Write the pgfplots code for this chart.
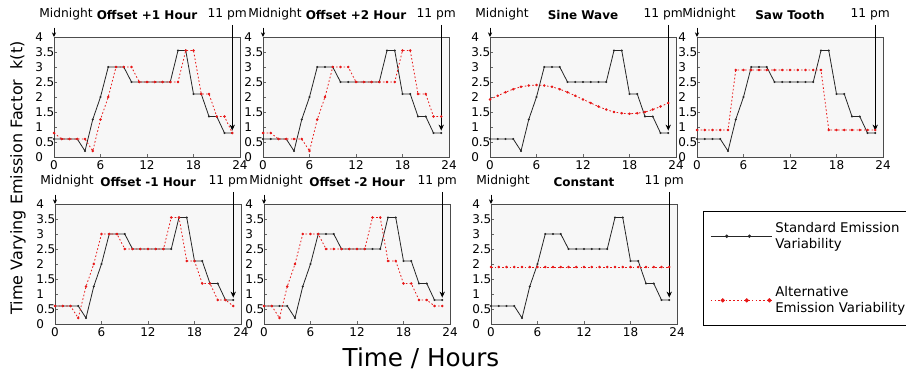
\documentclass[border=0pt]{standalone}
\usepackage{fontspec}
\setmainfont{DejaVu Sans}
\usepackage{pgfplots}
\pgfplotsset{compat=1.18}
\usepackage{pgfplotstable}
\usetikzlibrary{arrows.meta}

\definecolor{altred}{RGB}{232,24,24}

\pgfplotstableread{
h std p1 p2 m1 m2 sine saw const
0 0.6 0.8 0.8 0.6 0.6 1.92 0.9 1.9
1 0.6 0.6 0.8 0.6 0.6 2.04 0.9 1.9
2 0.6 0.6 0.6 0.6 0.2 2.16 0.9 1.9
3 0.6 0.6 0.6 0.2 1.25 2.26 0.9 1.9
4 0.2 0.6 0.6 1.25 2.0 2.34 0.9 1.9
5 1.25 0.2 0.6 2.0 3.0 2.38 2.9 1.9
6 2.0 1.25 0.2 3.0 3.0 2.40 2.9 1.9
7 3.0 2.0 1.25 3.0 3.0 2.38 2.9 1.9
8 3.0 3.0 2.0 3.0 2.5 2.34 2.9 1.9
9 3.0 3.0 3.0 2.5 2.5 2.26 2.9 1.9
10 2.5 3.0 3.0 2.5 2.5 2.16 2.9 1.9
11 2.5 2.5 3.0 2.5 2.5 2.04 2.9 1.9
12 2.5 2.5 2.5 2.5 2.5 1.92 2.9 1.9
13 2.5 2.5 2.5 2.5 2.5 1.80 2.9 1.9
14 2.5 2.5 2.5 2.5 3.55 1.68 2.9 1.9
15 2.5 2.5 2.5 3.55 3.55 1.58 2.9 1.9
16 3.55 2.5 2.5 3.55 2.1 1.50 2.9 1.9
17 3.55 3.55 2.5 2.1 2.1 1.46 0.9 1.9
18 2.1 3.55 3.55 2.1 1.35 1.44 0.9 1.9
19 2.1 2.1 3.55 1.35 1.35 1.46 0.9 1.9
20 1.35 2.1 2.1 1.35 0.8 1.50 0.9 1.9
21 1.35 1.35 2.1 0.8 0.8 1.58 0.9 1.9
22 0.8 1.35 1.35 0.8 0.6 1.68 0.9 1.9
23 0.8 0.8 1.35 0.6 0.6 1.80 0.9 1.9
}\kdata

\pgfplotsset{
  panel/.style={
    scale only axis, width=139.5pt, height=90pt,
    xmin=0, xmax=24, ymin=0, ymax=4,
    xtick={0,6,12,18,24},
    ytick={0,0.5,1,1.5,2,2.5,3,3.5,4},
    /pgf/number format/assume math mode=true,
    tick label style={font=\fontsize{9}{10}\selectfont},
    yticklabel style={anchor=west, inner xsep=0pt, xshift=-14.25pt},
    xticklabel style={yshift=1pt},
    tick align=inside, tick pos=left, major tick length=2pt,
    tick style={black!60},
    axis line style={black!70, line width=0.6pt},
    axis background/.style={fill=black!3},
    title style={at={(0.5,1)}, anchor=base, yshift=6.75pt,
      font=\fontsize{9}{10}\selectfont\bfseries},
    clip=false,
    anchor=south west,
  },
  stdline/.style={black!85, line width=0.6pt, mark=*, mark size=0.45pt},
  altline/.style={altred, line width=0.6pt, dash pattern=on 1.2pt off 1.6pt,
     mark=*, mark size=0.6pt, mark options={solid}},
  stdlegend/.style={legend image code/.code={\draw[##1, mark indices={2,3}]
      plot coordinates {(0pt,0pt) (12pt,0pt) (29pt,0pt) (46pt,0pt)};}},
  altlegend/.style={legend image code/.code={\draw[##1, mark size=1.3pt, mark indices={2,3,4}]
      plot coordinates {(0pt,0pt) (9pt,0pt) (27pt,0pt) (44pt,0pt) (46pt,0pt)};}},
}

\newcommand{\annot}{%
  \node[anchor=base, font=\fontsize{9.2}{10}\selectfont, inner sep=0pt]
     at ([xshift=9pt,yshift=14.25pt]axis cs:0,4) {Midnight};
  \draw[-{Stealth[length=3.5pt,width=3.2pt]}, line width=0.7pt]
     ([yshift=7pt]axis cs:0,4) -- (axis cs:0,4);
  \node[anchor=base, font=\fontsize{9.2}{10}\selectfont, inner sep=0pt]
     at ([xshift=-3.75pt,yshift=14.25pt]axis cs:23,4) {11 pm};
  \draw[-{Stealth[length=4.5pt,width=4pt]}, line width=1pt]
     ([yshift=9pt]axis cs:23,4) -- (axis cs:23,0.88);
}

\begin{document}
\begin{tikzpicture}

% Row 1
\begin{axis}[panel, at={(40.5pt,160.5pt)}, title={Offset +1 Hour}]
  \addplot[stdline] table[x=h,y=std] {\kdata};
  \addplot[altline] table[x=h,y=p1] {\kdata};
  \annot
\end{axis}

\begin{axis}[panel, at={(197.25pt,160.5pt)}, title={Offset +2 Hour}]
  \addplot[stdline] table[x=h,y=std] {\kdata};
  \addplot[altline] table[x=h,y=p2] {\kdata};
  \annot
\end{axis}

\begin{axis}[panel, at={(367.5pt,160.5pt)}, title={Sine Wave}]
  \addplot[stdline] table[x=h,y=std] {\kdata};
  \addplot[altline] table[x=h,y=sine] {\kdata};
  \annot
\end{axis}

\begin{axis}[panel, at={(522.75pt,160.5pt)}, title={Saw Tooth}]
  \addplot[stdline] table[x=h,y=std] {\kdata};
  \addplot[altline] table[x=h,y=saw] {\kdata};
  \annot
\end{axis}

% Row 2
\begin{axis}[panel, at={(41.25pt,35.25pt)}, title={Offset -1 Hour}]
  \addplot[stdline] table[x=h,y=std] {\kdata};
  \addplot[altline] table[x=h,y=m1] {\kdata};
  \annot
\end{axis}

\begin{axis}[panel, at={(198pt,35.25pt)}, title={Offset -2 Hour}]
  \addplot[stdline] table[x=h,y=std] {\kdata};
  \addplot[altline] table[x=h,y=m2] {\kdata};
  \annot
\end{axis}

\begin{axis}[panel, at={(368.25pt,35.25pt)}, title={Constant},
  legend style={at={(1.14,0.942)}, anchor=north west, draw=black,
    line width=0.8pt, fill=white, font=\fontsize{10}{12}\selectfont,
    cells={align=left, anchor=west}, row sep=23pt,
    inner xsep=5pt, inner ysep=6pt},
  ]
  \addplot[stdline, forget plot] table[x=h,y=std] {\kdata};
  \addplot[altline, forget plot] table[x=h,y=const] {\kdata};
  \addlegendimage{stdline, line width=0.8pt, mark size=0.8pt, stdlegend}
  \addlegendentry{Standard Emission\\Variability}
  \addlegendimage{altline, altlegend}
  \addlegendentry{Alternative\\Emission Variability}
  \annot
\end{axis}

% Shared axis labels
\node[rotate=90, font=\fontsize{12}{14}\selectfont] at (13.5pt,144.75pt)
  {Time Varying Emission Factor \ k(t)};
\node[anchor=base, font=\fontsize{18.5}{20}\selectfont] at (315.75pt,3.5pt)
  {Time / Hours};

\pgfresetboundingbox
\useasboundingbox (0,0) rectangle (679.5pt,278.25pt);
\end{tikzpicture}
\end{document}
